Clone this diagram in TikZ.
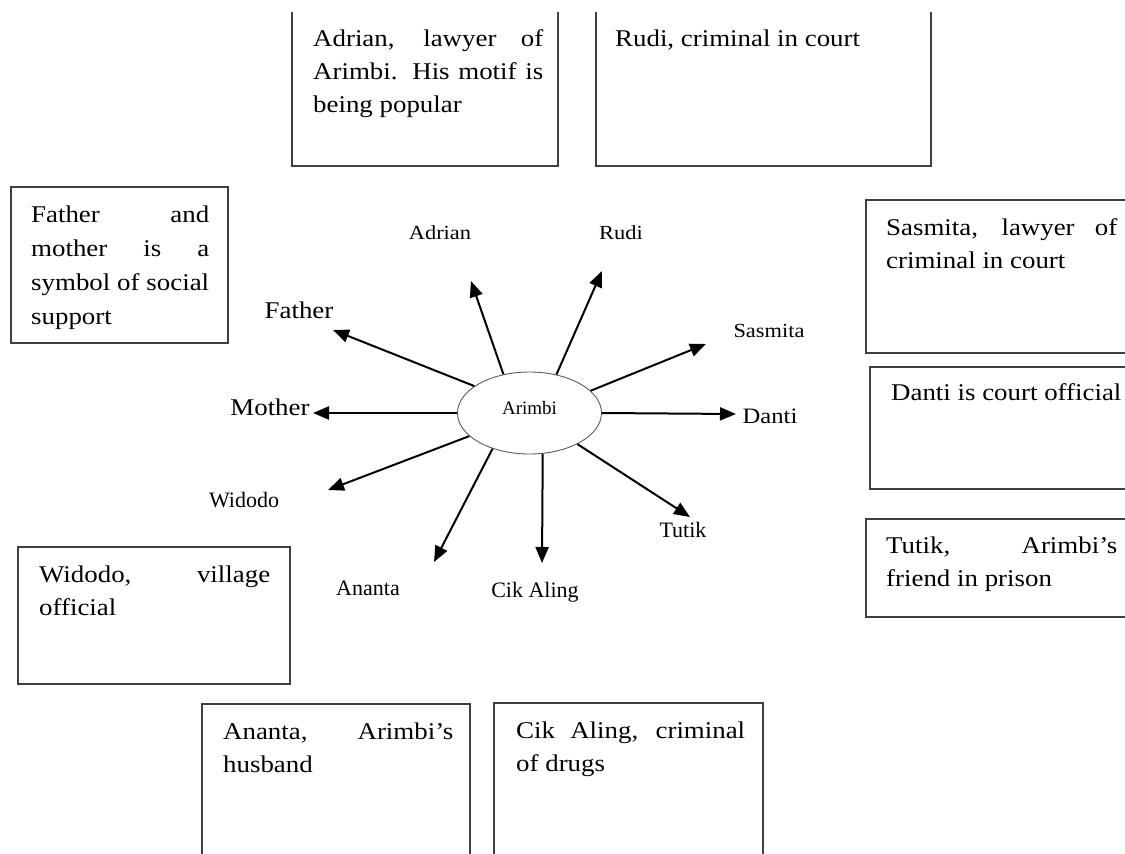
\documentclass[tikz,border=0pt]{standalone}
\usepackage{fontspec}
\setmainfont{Liberation Serif}
\newfontfamily\widefont{Liberation Serif}[FakeStretch=1.12]
\usetikzlibrary{arrows.meta,shapes.geometric}
\hbadness=10000
\begin{document}
\begin{tikzpicture}[x=1pt,y=-1pt,
  boxline/.style={draw=black!75, line width=1.3pt},
  boxtext/.style={anchor=base west, inner sep=0pt, text width=#1, align=justify, font=\widefont\fontsize{24}{33}\selectfont},
  wlbl/.style={anchor=base, inner sep=0pt, font=\widefont\fontsize{#1}{#1}\selectfont},
  nlbl/.style={anchor=base, inner sep=0pt, font=\fontsize{#1}{#1}\selectfont},
  arr/.style={line width=2pt, -{Triangle[length=16pt,width=13pt]}},
]
\useasboundingbox (0,0) rectangle (1125,854);

% description boxes
\draw[boxline] (292,12) -- (292,166) -- (558,166) -- (558,12);
\draw[boxline] (596,12) -- (596,166) -- (931,166) -- (931,12);
\draw[boxline] (11,187) rectangle (228,343);
\draw[boxline] (1140,200) -- (866,200) -- (866,353) -- (1140,353);
\draw[boxline] (1140,367) -- (870,367) -- (870,489) -- (1140,489);
\draw[boxline] (1140,519) -- (866,519) -- (866,617) -- (1140,617);
\draw[boxline] (18,547) rectangle (290,684);
\draw[boxline] (202,870) -- (202,704) -- (470,704) -- (470,870);
\draw[boxline] (494,870) -- (494,703) -- (763,703) -- (763,870);

\node[boxtext=230pt] (dAdrian) at (313,46) {Adrian, lawyer of\linebreak Arimbi. His motif is\linebreak being popular};
\node[boxtext=300pt] (dRudi) at (615,46) {Rudi, criminal in court};
\node[boxtext=178pt, font=\widefont\fontsize{24}{34}\selectfont] (dFather) at (31,222) {Father and\linebreak mother is a\linebreak symbol of social\linebreak support};
\node[boxtext=231pt] (dSasmita) at (886,235) {Sasmita, lawyer of\linebreak criminal in court};
\node[boxtext=240pt] (dDanti) at (891,400) {Danti is court official};
\node[boxtext=231pt] (dTutik) at (886,553) {Tutik, Arimbi’s\linebreak friend in prison};
\node[boxtext=231pt] (dWidodo) at (39,582) {Widodo, village\linebreak official};
\node[boxtext=230pt] (dAnanta) at (223,739) {Ananta, Arimbi’s\linebreak husband};
\node[boxtext=229pt] (dCik) at (516,738) {Cik Aling, criminal\linebreak of drugs};

% centre
\node[ellipse, draw=black!65, line width=0.9pt, minimum width=144pt, minimum height=82pt, inner sep=0pt] (arimbi) at (529.5,413) {};
\node[nlbl=19] (arimbitext) at (529.5,414) {Arimbi};

% character labels
\node[wlbl=20] (lAdrian) at (440,239) {Adrian};
\node[wlbl=20] (lRudi) at (621,239) {Rudi};
\node[wlbl=24] (lFather) at (299,318) {Father};
\node[wlbl=20] (lSasmita) at (769,337) {Sasmita};
\node[wlbl=24] (lMother) at (270,415) {Mother};
\node[wlbl=22] (lDanti) at (770,423) {Danti};
\node[nlbl=22] (lWidodo) at (244,507) {Widodo};
\node[nlbl=22] (lTutik) at (683,537) {Tutik};
\node[nlbl=22] (lAnanta) at (368,595) {Ananta};
\node[nlbl=22] (lCik) at (535,597) {Cik Aling};

% arrow tips
\coordinate (tAdrian) at (471,281);
\coordinate (tRudi) at (602,271);
\coordinate (tSasmita) at (706,344);
\coordinate (tDanti) at (736,414);
\coordinate (tTutik) at (690,517);
\coordinate (tCik) at (542,563);
\coordinate (tAnanta) at (434,562);
\coordinate (tWidodo) at (328,490);
\coordinate (tMother) at (313,413);
\coordinate (tFather) at (333,330);

\draw[arr] (arimbi.124) -- (tAdrian);
\draw[arr] (arimbi.55) -- (tRudi);
\draw[arr] (arimbi.20) -- (tSasmita);
\draw[arr] (arimbi.0) -- (tDanti);
\draw[arr] (arimbi.-33) -- (tTutik);
\draw[arr] (arimbi.-72) -- (tCik);
\draw[arr] (arimbi.224) -- (tAnanta);
\draw[arr] (arimbi.201) -- (tWidodo);
\draw[arr] (arimbi.180) -- (tMother);
\draw[arr] (arimbi.154) -- (tFather);
\end{tikzpicture}
\end{document}
